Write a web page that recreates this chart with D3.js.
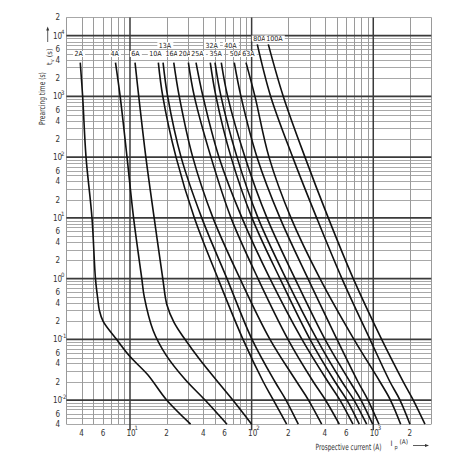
<!DOCTYPE html>
<html><head><meta charset="utf-8">
<script src="https://cdn.jsdelivr.net/npm/d3@7"></script>
<style>
html,body{margin:0;padding:0;background:#fff;}
svg{display:block;font-family:"Liberation Sans Narrow","DejaVu Sans Condensed","Arial Narrow",sans-serif;}
</style></head><body>
<svg id="chart" width="470" height="470"></svg>
<script>
// ---------- data ----------
const xDomain = [3, 3000];          // prospective current (A)
const yDomain = [0.004, 20000];     // pre-arcing time (s)
const xTicks = [4, 6, 10, 20, 40, 60, 100, 200, 400, 600, 1000, 2000];
const yTicks = [20000, 10000, 6000, 4000, 2000, 1000, 600, 400, 200, 100, 60, 40, 20, 10, 6, 4, 2, 1,
                0.6, 0.4, 0.2, 0.1, 0.06, 0.04, 0.02, 0.01, 0.006, 0.004];

const fuseNames = ["2A","4A","6A","10A","13A","16A","20A","25A","32A","35A","40A","50A","63A","80A","100A"];
const labelCurrent = [3.79, 7.48, 11.1, 16.2, 19.4, 22.0, 28.3, 35.9, 46.9, 50.5, 67.0, 74.3, 93.9, 116, 154];
const labelTime = [5000, 5000, 5000, 5000, 7000, 5000, 5000, 5000, 7000, 5000, 7000, 5000, 5000, 9000, 9000];

// [current A, time s]
const fuse2A  = [[3.9,3600],[4.08,1000],[4.35,100],[4.87,10],[5.2,1],[5.45,0.44],[5.6,0.3],[6.0,0.2],[7.75,0.1],[10,0.052],[14,0.026],[20,0.01],[31.5,0.004]];
const fuse4A  = [[7.6,3600],[8.3,1000],[9.45,100],[10.7,10],[12.5,1],[13.1,0.5],[15.5,0.14],[19.8,0.055],[28.3,0.022],[41.4,0.01],[62.7,0.004]];
const fuse6A  = [[11,3600],[11.8,1000],[13.5,100],[15.8,10],[18.6,1],[20.1,0.37],[23,0.19],[28.3,0.1],[37.6,0.046],[51.6,0.021],[70,0.01],[100,0.004]];
const fuse10A = [[17.1,3600],[18.6,1000],[23.9,100],[33.8,10],[52.9,1],[84.9,0.1],[124.6,0.02],[151,0.01],[194,0.004]];
const fuse13A = [[18.7,3600],[20.4,1000],[26.3,100],[38.9,10],[62.7,1],[100.7,0.1],[155.6,0.02],[191.6,0.01],[241.8,0.004]];
const fuse16A = [[22.9,3600],[25.4,1000],[32.8,100],[48.1,10],[80.2,1],[141.5,0.1],[234.6,0.02],[293.4,0.01],[376.5,0.004]];
const fuse20A = [[30.2,3600],[33.8,1000],[46.3,100],[67.7,10],[112.8,1],[199,0.1],[321.3,0.02],[404.6,0.01],[525.5,0.004]];
const fuse25A = [[34.9,3600],[39.8,1000],[53.9,100],[83.3,10],[141.5,1],[259.4,0.1],[424.2,0.02],[532.3,0.01],[681,0.004]];
const fuse32A = [[45.7,3600],[50.9,1000],[67.7,100],[100.7,10],[171,1],[301.8,0.1],[484.4,0.02],[607.8,0.01],[767.3,0.004]];
const fuse35A = [[50,3600],[56,1000],[75.8,100],[112.8,10],[191.6,1],[344.5,0.1],[552.8,0.02],[693.9,0.01],[882.4,0.004]];
const fuse40A = [[56.3,3600],[63.5,1000],[88.2,100],[133.7,10],[227.2,1],[400.9,0.1],[643.5,0.02],[792.4,0.01],[988.8,0.004]];
const fuse50A = [[72,3600],[81.7,1000],[110.7,100],[171,10],[290.6,1],[503,0.1],[748.6,0.02],[904.4,0.01],[1114,0.004]];
const fuse63A = [[89.9,3600],[106.5,1000],[138.9,100],[210.6,10],[364.7,1],[693.9,0.1],[1135,0.02],[1384,0.01],[1680,0.004]];
const fuse80A = [[111.3,7200],[143.4,1000],[217.5,100],[342.5,10],[552.8,1],[939.6,0.1],[1371,0.02],[1658,0.01],[2003,0.004]];
const fuse100A= [[137.1,7200],[182.1,1000],[274.5,100],[426.7,10],[684.9,1],[1172,0.1],[1765,0.02],[2132,0.01],[2661,0.004]];
const fuseCurves = [fuse2A,fuse4A,fuse6A,fuse10A,fuse13A,fuse16A,fuse20A,fuse25A,fuse32A,fuse35A,fuse40A,fuse50A,fuse63A,fuse80A,fuse100A];

// ---------- layout ----------
const svg = d3.select("#chart");
const P = {left: 66.4, right: 431.3, top: 17.4, bottom: 424.2};
const x = d3.scaleLog().domain(xDomain).range([P.left, P.right]);
const y = d3.scaleLog().domain(yDomain).range([P.bottom, P.top]);

function logGrid(lo, hi) {
  const out = [];
  for (let e = Math.floor(Math.log10(lo)); e <= Math.ceil(Math.log10(hi)); e++) {
    for (let m = 1; m < 10; m++) {
      const v = +(m * Math.pow(10, e)).toPrecision(6);
      if (v >= lo * 0.999 && v <= hi * 1.001) out.push({v, major: m === 1});
    }
  }
  return out;
}
const crisp = p => Math.round(p) + 0.5;

const grid = svg.append("g");
const xg = logGrid(xDomain[0], xDomain[1]);
const yg = logGrid(yDomain[0], yDomain[1]);
grid.selectAll("line.hmin").data(yg.filter(d => !d.major)).join("line")
  .attr("x1", P.left).attr("x2", P.right)
  .attr("y1", d => crisp(y(d.v))).attr("y2", d => crisp(y(d.v)))
  .attr("stroke", "#a8a8a8").attr("stroke-width", 1);
grid.selectAll("line.vmin").data(xg.filter(d => !d.major)).join("line")
  .attr("y1", P.top).attr("y2", P.bottom)
  .attr("x1", d => crisp(x(d.v))).attr("x2", d => crisp(x(d.v)))
  .attr("stroke", "#9a9a9a").attr("stroke-width", 1);
grid.selectAll("line.hmaj").data(yg.filter(d => d.major)).join("line")
  .attr("x1", P.left).attr("x2", P.right)
  .attr("y1", d => y(d.v)).attr("y2", d => y(d.v))
  .attr("stroke", "#3a3a3a").attr("stroke-width", 1.8);
grid.selectAll("line.vmaj").data(xg.filter(d => d.major)).join("line")
  .attr("y1", P.top).attr("y2", P.bottom + 6)
  .attr("x1", d => x(d.v)).attr("x2", d => x(d.v))
  .attr("stroke", "#3a3a3a").attr("stroke-width", 1.5);

// ---------- curves ----------
const line = d3.line().x(d => x(d[0])).y(d => y(d[1])).curve(d3.curveCatmullRom.alpha(0.5));
svg.append("g").selectAll("path").data(fuseCurves).join("path")
  .attr("d", line).attr("fill", "none").attr("stroke", "#111").attr("stroke-width", 1.6)
  .attr("stroke-linejoin", "round");

// ---------- curve labels ----------
const lab = svg.append("g").attr("font-size", 7).attr("fill", "#222");
fuseNames.forEach((name, i) => {
  const g = lab.append("g");
  const t = g.append("text").attr("x", x(labelCurrent[i])).attr("y", y(labelTime[i]) + 2.5)
    .attr("text-anchor", "middle").text(name);
  const b = t.node().getBBox();
  g.insert("rect", "text").attr("x", b.x - 1.5).attr("y", y(labelTime[i]) - 3)
    .attr("width", b.width + 3).attr("height", 6).attr("fill", "#fff");
});

// ---------- tick labels ----------
function splitVal(v) {
  const e = Math.floor(Math.log10(v) + 1e-9);
  const m = Math.round(v / Math.pow(10, e));
  return {e, m};
}
const tl = svg.append("g").attr("font-size", 8).attr("fill", "#333");
yTicks.forEach(v => {
  const {e, m} = splitVal(v);
  const yy = y(v);
  if (m === 1) {
    tl.append("text").attr("x", 57.5).attr("y", yy + 3).attr("text-anchor", "middle").text("10");
    tl.append("text").attr("x", 61).attr("y", yy - 1.5).attr("font-size", 6).text(e);
  } else {
    tl.append("text").attr("x", 57.8).attr("y", yy + 3).attr("text-anchor", "middle").text(m);
  }
});
xTicks.forEach(v => {
  const {e, m} = splitVal(v);
  const xx = x(v);
  if (m === 1) {
    tl.append("text").attr("x", xx + 1).attr("y", 435.5).attr("text-anchor", "middle").text("10");
    tl.append("text").attr("x", xx + 4.5).attr("y", 429.5).attr("font-size", 6).text(e);
  } else {
    tl.append("text").attr("x", xx).attr("y", 435.5).attr("text-anchor", "middle").text(m);
  }
});

// ---------- axis titles (squeezed to the reference widths) ----------
function fitText(txt, size, cx, cy, width, rotate) {
  const t = svg.append("text").attr("text-anchor", "middle").attr("font-size", size)
    .attr("fill", "#333").text(txt);
  const w = t.node().getComputedTextLength();
  const s = Math.min(1, width / w);
  t.attr("transform", `translate(${cx},${cy}) rotate(${rotate}) scale(${s},1)`);
  return t;
}
fitText("Prearcing time (s)", 8.5, 45, 98.5, 53, -90);
fitText("Prospective current (A)", 8.5, 348.5, 450, 66, 0);

const tv = svg.append("text").attr("transform", "translate(52,65) rotate(-90)")
  .attr("font-size", 7.5).attr("fill", "#333");
tv.append("tspan").text("t");
tv.append("tspan").attr("dy", 2).attr("font-size", 5.5).text("v");
tv.append("tspan").attr("dy", -2).text(" (s)");
svg.append("line").attr("x1", 47.7).attr("x2", 47.7).attr("y1", 42).attr("y2", 29)
  .attr("stroke", "#333").attr("stroke-width", 0.8);
svg.append("path").attr("d", "M47.7,26.5 L46.2,30.5 L49.2,30.5 Z").attr("fill", "#333");

svg.append("text").attr("x", 390.5).attr("y", 445.5).attr("font-size", 7.5).attr("fill", "#333").text("I");
svg.append("text").attr("x", 394.5).attr("y", 449).attr("font-size", 5.5).attr("fill", "#333").text("p");
svg.append("text").attr("x", 399.5).attr("y", 443.5).attr("font-size", 6.5).attr("fill", "#333").text("(A)");
svg.append("line").attr("x1", 413).attr("x2", 426).attr("y1", 445.5).attr("y2", 445.5)
  .attr("stroke", "#333").attr("stroke-width", 0.8);
svg.append("path").attr("d", "M429,445.5 L425,444 L425,447 Z").attr("fill", "#333");
</script>
</body></html>
